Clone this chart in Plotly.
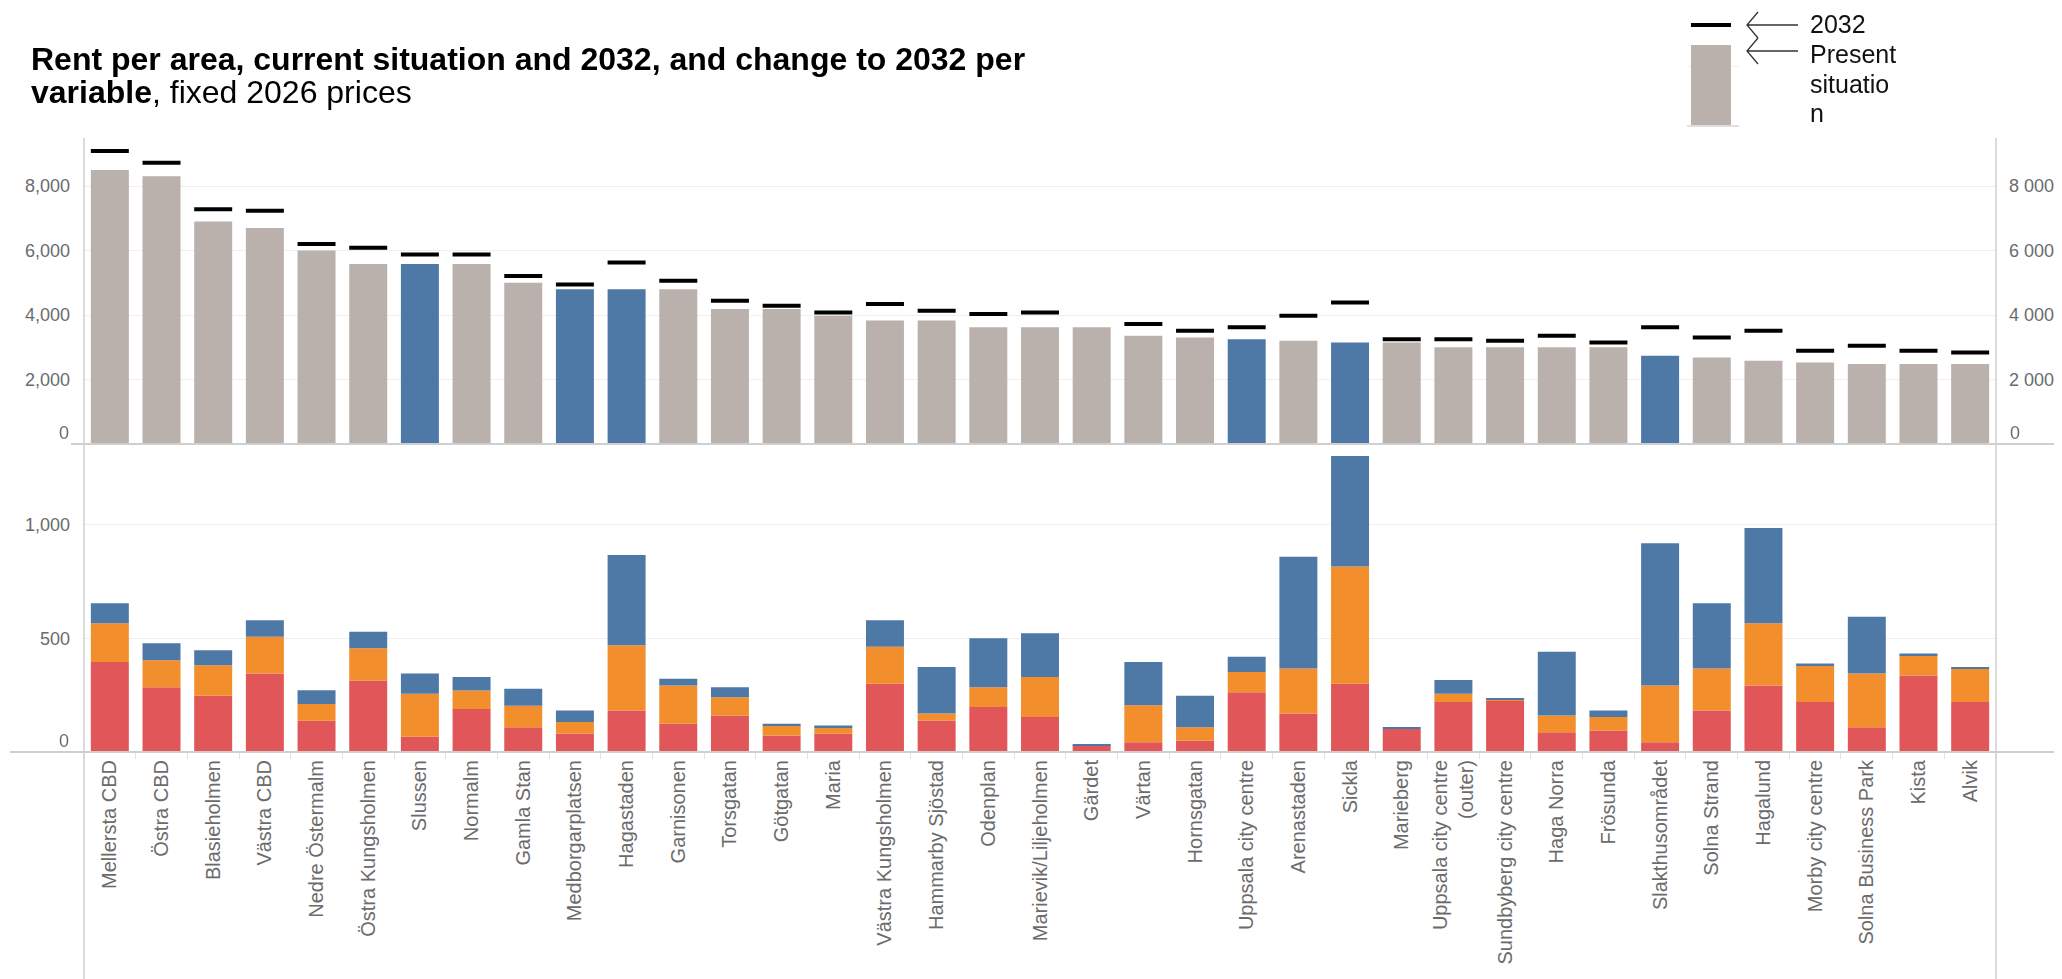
import plotly.graph_objects as go

# ---------------- data ----------------
categories = ["Mellersta CBD", "Östra CBD", "Blasieholmen", "Västra CBD", "Nedre Östermalm",
              "Östra Kungsholmen", "Slussen", "Normalm", "Gamla Stan", "Medborgarplatsen",
              "Hagastaden", "Garnisonen", "Torsgatan", "Götgatan", "Maria",
              "Västra Kungsholmen", "Hammarby Sjöstad", "Odenplan", "Marievik/Liljeholmen", "Gärdet",
              "Värtan", "Hornsgatan", "Uppsala city centre", "Arenastaden", "Sickla",
              "Marieberg", "Uppsala city centre<br>(outer)", "Sundbyberg city centre", "Haga Norra", "Frösunda",
              "Slakthusområdet", "Solna Strand", "Hagalund", "Morby city centre", "Solna Business Park",
              "Kista", "Alvik"]

present = [8500, 8300, 6900, 6700, 6000, 5580, 5580, 5580, 5000, 4800,
           4800, 4800, 4190, 4190, 3980, 3830, 3830, 3620, 3620, 3620,
           3360, 3300, 3250, 3200, 3150, 3150, 3000, 3000, 3000, 3000,
           2740, 2680, 2580, 2530, 2480, 2480, 2480]

rent_2032 = [9090, 8720, 7280, 7230, 6200, 6090, 5880, 5880, 5210, 4950,
             5630, 5060, 4440, 4290, 4080, 4340, 4130, 4030, 4080, None,
             3720, 3510, 3620, 3980, 4390, 3250, 3250, 3200, 3360, 3150,
             3620, 3300, 3510, 2890, 3050, 2890, 2840]

change_red = [396, 285, 248, 345, 138, 315, 67, 189, 109, 81,
              183, 124, 161, 72, 80, 300, 139, 198, 154, 28,
              43, 50, 263, 169, 300, 102, 220, 226, 87, 95,
              43, 183, 293, 220, 109, 337, 220]
change_orange = [170, 119, 134, 162, 73, 141, 189, 82, 95, 51,
                 287, 169, 80, 45, 29, 163, 30, 87, 176, 2,
                 163, 59, 89, 198, 516, 0, 36, 3, 74, 59,
                 250, 184, 273, 162, 236, 89, 147]
change_blue = [88, 74, 66, 73, 61, 73, 89, 59, 74, 51,
               397, 29, 44, 7, 8, 117, 205, 215, 192, 5,
               190, 139, 67, 492, 486, 7, 61, 5, 280, 29,
               625, 287, 419, 7, 250, 7, 7]

highlighted = ["Slussen", "Medborgarplatsen", "Hagastaden", "Uppsala city centre", "Sickla", "Slakthusområdet"]

top_ticks = [2000, 4000, 6000, 8000]
bottom_ticks = [500, 1000]

# ---------------- style ----------------
GREY = "#BAB0AC"
BLUE = "#4E79A7"
ORANGE = "#F28E2B"
RED = "#E15759"
AXIS = "#cfcfcf"
GRID = "#efefef"
FONT = "Arial, Liberation Sans, sans-serif"
TICKFONT = dict(size=18, color="#6b6b6b", family=FONT)
XTICKFONT = dict(size=20, color="#6b6b6b", family=FONT)

# page has an 8px body margin: figure drawn from screen (8, 8)
W, H = 2054, 971
L, R, T, B = 76, 66, 130, 227
PW, PH = W - L - R, H - T - B
SX0, SY_BASE = 84, 752          # screen position of plot left edge / bottom baseline
TOP_RANGE = 9490
BOT_RANGE = 1355
SPLIT = (SY_BASE - 444) / PH


def px_x(px):
    return (px - SX0) / PW


def px_y(py):
    return (SY_BASE - py) / PH


fig = go.Figure()

# top panel: present situation
bar_colors = [BLUE if c in highlighted else GREY for c in categories]
fig.add_trace(go.Bar(x=categories, y=present, marker=dict(color=bar_colors, line=dict(width=0)),
                     xaxis="x2", yaxis="y2", name="Present situation"))

# 2032 markers as thin bars
half = 2.0 * TOP_RANGE / ((1 - SPLIT) * PH)
mk_cat = [c for c, v in zip(categories, rent_2032) if v is not None]
mk_val = [v for v in rent_2032 if v is not None]
fig.add_trace(go.Bar(x=mk_cat, y=[2 * half] * len(mk_val), base=[v - half for v in mk_val],
                     marker=dict(color="#000000", line=dict(width=0)),
                     xaxis="x2", yaxis="y2", name="2032"))

# invisible trace to activate right axis
fig.add_trace(go.Scatter(x=categories, y=present, mode="markers", opacity=0,
                         xaxis="x2", yaxis="y3", hoverinfo="skip", showlegend=False))

# bottom panel: stacked changes
base_orange = change_red
base_blue = [r + o for r, o in zip(change_red, change_orange)]
fig.add_trace(go.Bar(x=categories, y=change_red, base=[0] * len(categories),
                     marker=dict(color=RED, line=dict(width=0)), xaxis="x", yaxis="y"))
fig.add_trace(go.Bar(x=categories, y=change_orange, base=base_orange,
                     marker=dict(color=ORANGE, line=dict(width=0)), xaxis="x", yaxis="y"))
fig.add_trace(go.Bar(x=categories, y=change_blue, base=base_blue,
                     marker=dict(color=BLUE, line=dict(width=0)), xaxis="x", yaxis="y"))

xrange = [-0.5, len(categories) - 0.5]
fig.update_layout(
    width=W, height=H,
    margin=dict(l=L, r=R, t=T, b=B, autoexpand=False),
    barmode="overlay", bargap=0.265,
    plot_bgcolor="white", paper_bgcolor="white",
    showlegend=False,
    font=dict(family=FONT),
    xaxis=dict(domain=[0, 1], anchor="y", type="category", categoryorder="array",
               categoryarray=categories, range=xrange, tickangle=-90, tickfont=XTICKFONT,
               ticks="outside", ticklen=6, tickcolor="#e2e2e2", tickson="boundaries",
               showline=False, showgrid=False, zeroline=False, ticklabelstandoff=3),
    xaxis2=dict(domain=[0, 1], anchor="y2", matches="x", range=xrange, showticklabels=False,
                showline=False, showgrid=False, zeroline=False, ticks=""),
    yaxis=dict(domain=[0, SPLIT], anchor="x", range=[0, BOT_RANGE], tickvals=bottom_ticks,
               ticktext=[f"{v:,}" for v in bottom_ticks], tickfont=TICKFONT,
               showgrid=True, gridcolor=GRID, gridwidth=1, zeroline=False, showline=False,
               ticks="", ticklabelstandoff=13),
    yaxis2=dict(domain=[SPLIT, 1], anchor="x2", range=[0, TOP_RANGE], tickvals=top_ticks,
                ticktext=[f"{v:,}" for v in top_ticks], tickfont=TICKFONT,
                showgrid=True, gridcolor=GRID, gridwidth=1, zeroline=False, showline=False,
                ticks="", ticklabelstandoff=13),
    yaxis3=dict(overlaying="y2", anchor="x2", side="right", range=[0, TOP_RANGE],
                tickvals=top_ticks, ticktext=[f"{v:,}".replace(",", " ") for v in top_ticks],
                tickfont=TICKFONT, showgrid=False, zeroline=False, showline=False,
                ticks="", ticklabelstandoff=12),
)

shapes = []
# axis / pane lines
shapes.append(dict(type="line", xref="paper", yref="paper", x0=px_x(84), x1=px_x(84),
                   y0=px_y(138), y1=px_y(979), line=dict(color=AXIS, width=1.5)))
shapes.append(dict(type="line", xref="paper", yref="paper", x0=px_x(1996), x1=px_x(1996),
                   y0=px_y(138), y1=px_y(979), line=dict(color=AXIS, width=1.5)))
shapes.append(dict(type="line", xref="paper", yref="paper", x0=px_x(71), x1=px_x(2062),
                   y0=SPLIT, y1=SPLIT, line=dict(color=AXIS, width=2)))
shapes.append(dict(type="line", xref="paper", yref="paper", x0=px_x(10), x1=px_x(2062),
                   y0=0, y1=0, line=dict(color=AXIS, width=2)))

# legend graphics
shapes.append(dict(type="line", xref="paper", yref="paper", x0=px_x(1687), x1=px_x(1739),
                   y0=px_y(66), y1=px_y(66), line=dict(color="#eeeeee", width=1), layer="below"))
shapes.append(dict(type="rect", xref="paper", yref="paper", x0=px_x(1691), x1=px_x(1731),
                   y0=px_y(125), y1=px_y(45), fillcolor=GREY, line=dict(width=0)))
shapes.append(dict(type="line", xref="paper", yref="paper", x0=px_x(1687), x1=px_x(1739),
                   y0=px_y(126), y1=px_y(126), line=dict(color="#d5d5d5", width=1.5)))
shapes.append(dict(type="line", xref="paper", yref="paper", x0=px_x(1691), x1=px_x(1731),
                   y0=px_y(25), y1=px_y(25), line=dict(color="#000000", width=4)))


def path(points):
    s = ""
    for cmd, (x, y) in points:
        s += f"{cmd}{px_x(x):.5f},{px_y(y):.5f} "
    return s.strip()


arrow1 = path([("M", (1798, 25)), ("L", (1747, 25)), ("M", (1758, 12)), ("L", (1747, 25)), ("L", (1758, 38))])
arrow2 = path([("M", (1798, 51)), ("L", (1747, 51)), ("M", (1758, 38)), ("L", (1747, 51)), ("L", (1758, 64))])
for p in (arrow1, arrow2):
    shapes.append(dict(type="path", xref="paper", yref="paper", path=p,
                       line=dict(color="#333333", width=1.3)))

fig.update_layout(shapes=shapes)

ann = []
ann.append(dict(text="<b>Rent per area, current situation and 2032, and change to 2032 per</b>",
                xref="paper", yref="paper", x=px_x(29), y=px_y(59), xanchor="left", yanchor="middle",
                showarrow=False, font=dict(size=32, color="#000000")))
ann.append(dict(text="<b>variable</b>, fixed 2026 prices",
                xref="paper", yref="paper", x=px_x(29), y=px_y(92), xanchor="left", yanchor="middle",
                showarrow=False, font=dict(size=32, color="#000000")))
for txt, yy in [("2032", 24), ("Present", 54), ("situatio", 84), ("n", 113)]:
    ann.append(dict(text=txt, xref="paper", yref="paper", x=px_x(1808), y=px_y(yy),
                    xanchor="left", yanchor="middle", showarrow=False,
                    font=dict(size=25, color="#111111")))
# zero labels (raised like the original)
ann.append(dict(text="0", xref="paper", yref="y2", x=0, y=0, xanchor="right", yanchor="bottom",
                xshift=-13, yshift=-1, showarrow=False, font=TICKFONT))
ann.append(dict(text="0", xref="paper", yref="y2", x=1, y=0, xanchor="left", yanchor="bottom",
                xshift=12, yshift=-1, showarrow=False, font=TICKFONT))
ann.append(dict(text="0", xref="paper", yref="y", x=0, y=0, xanchor="right", yanchor="bottom",
                xshift=-13, yshift=-1, showarrow=False, font=TICKFONT))
fig.update_layout(annotations=ann)

fig.write_html("out.html")
